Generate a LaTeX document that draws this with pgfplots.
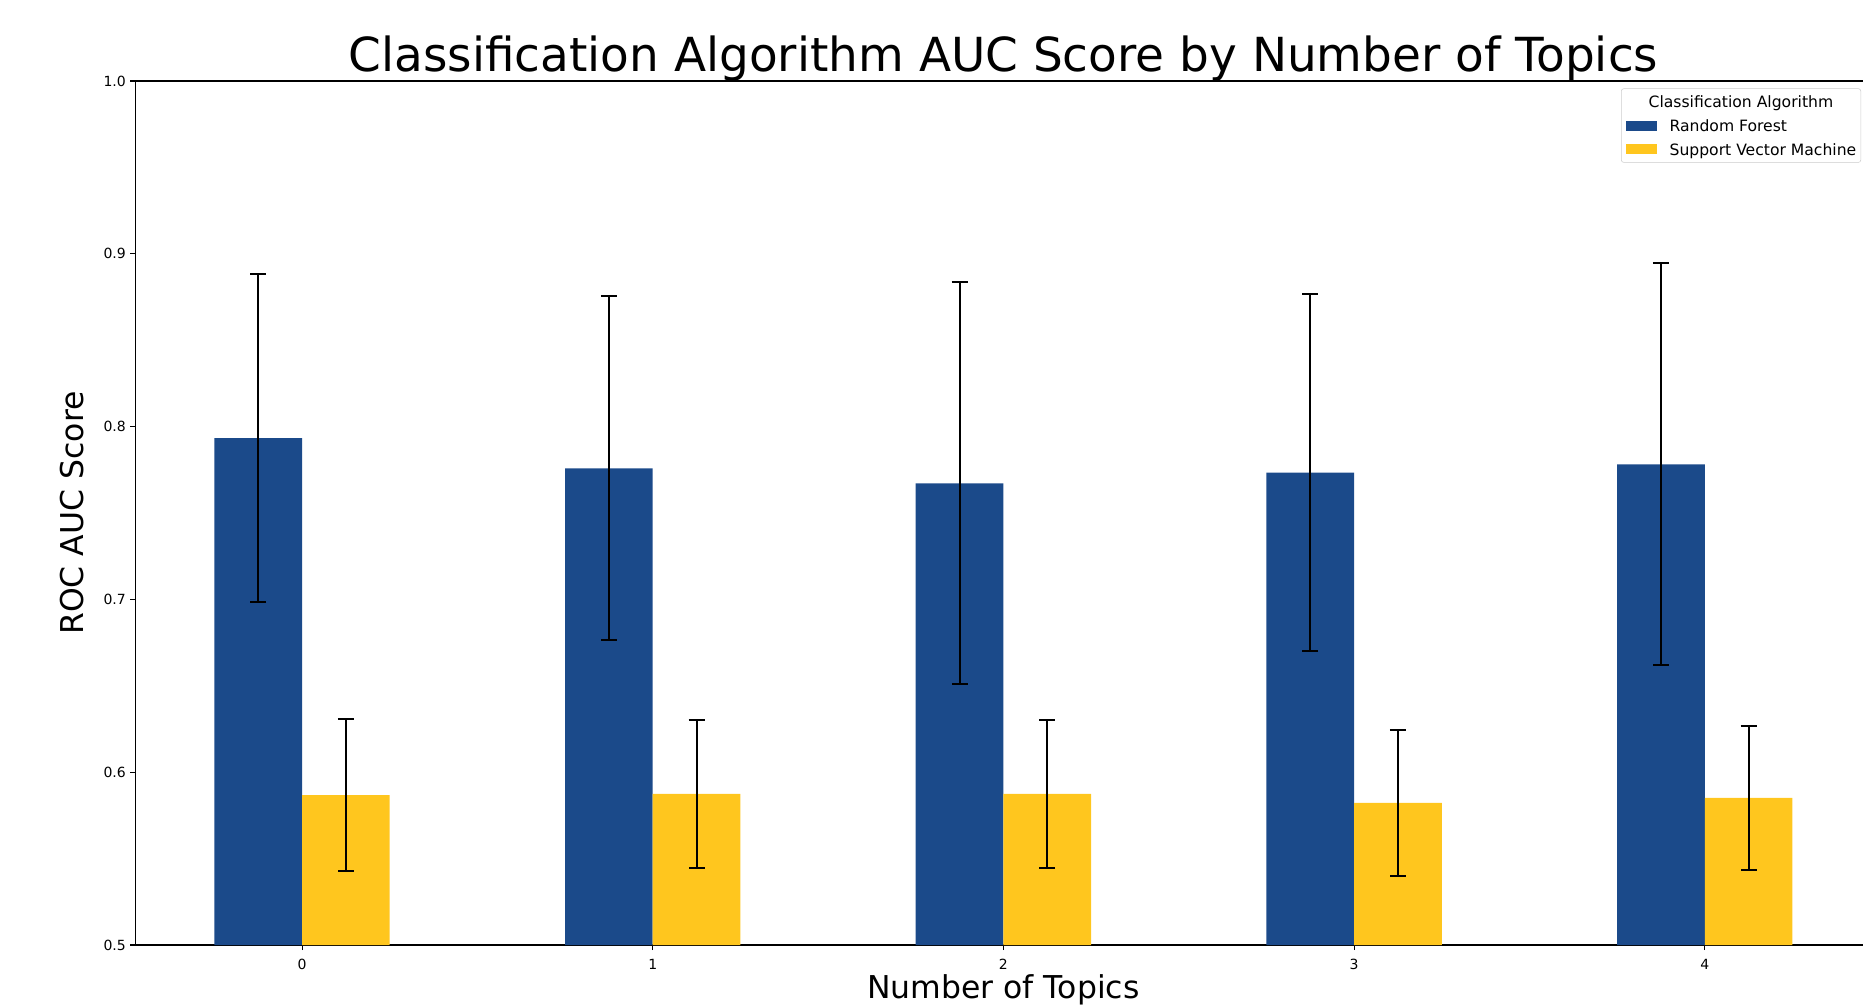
\documentclass[border=0pt]{standalone}
\usepackage{pgfplots}
\pgfplotsset{compat=1.18}
\usepackage{fontspec}
\setmainfont{DejaVu Sans}
\definecolor{rfblue}{HTML}{1B4A8A}
\definecolor{svmyellow}{HTML}{FFC61E}
\begin{document}
\begin{tikzpicture}
\path[use as bounding box] (-101.625pt,-44.25pt) rectangle (1295.625pt,708.75pt);
\clip (-101.625pt,-44.25pt) rectangle (1295.625pt,708.75pt);
\begin{axis}[
  at={(0pt,0pt)}, anchor=south west,
  scale only axis,
  width=1301.85pt, height=648pt,
  xmin=-0.475, xmax=4.475,
  ymin=0.5, ymax=1.0,
  ybar, bar width=0.25,
  xtick={0,1,2,3,4}, xticklabels={0,1,2,3,4},
  ytick={0.5,0.6,0.7,0.8,0.9,1.0},
  yticklabels={0.5,0.6,0.7,0.8,0.9,1.0},
  tick align=outside,
  major tick length=3.75pt,
  tick style={line width=0.8pt, black},
  axis line style={line width=0.8pt, black},
  xtick pos=bottom, ytick pos=left,
  tick label style={font=\fontsize{10.5pt}{12pt}\selectfont},
  xticklabel style={yshift=-3.2pt},
  title={Classification Algorithm AUC Score by Number of Topics},
  title style={font=\fontsize{35.2pt}{40pt}\selectfont, at={(axis description cs:0.5,1.0018)}, anchor=base},
  xlabel={Number of Topics},
  xlabel style={font=\fontsize{23.6pt}{26pt}\selectfont, at={(axis description cs:0.5,-0.0622)}, anchor=base},
  ylabel={ROC AUC Score},
  ylabel style={font=\fontsize{23.6pt}{26pt}\selectfont, at={(axis description cs:-0.0366,0.5)}, anchor=center},
  legend style={at={(axis description cs:0.8558,0.9915)}, anchor=north west,
    draw=black!20, rounded corners=2pt, fill=white, fill opacity=0.8, text opacity=1,
    font=\fontsize{11.7pt}{13pt}\selectfont, inner xsep=3.5pt, inner ysep=1pt,
    column sep=9.75pt, row sep=0pt,
    nodes={inner xsep=0pt, inner ysep=0pt, text height=13.2pt, text depth=4.6pt}},
  legend cell align=left,
  legend image code/.code={\fill[#1, fill opacity=1, sharp corners] (0pt,-3.75pt) rectangle (23pt,3.75pt);},
  error bars/error bar style={line width=1.5pt, black},
  error bars/error mark=|,
  error bars/error mark options={line width=1.5pt, black, mark size=6pt},
]
\addlegendimage{empty legend}
\addlegendentry{\hspace{-15.75pt}Classification Algorithm}
\addplot[fill=rfblue, draw=none, bar shift=-0.125,
  error bars/.cd, y dir=both, y explicit]
  coordinates {
  (0,0.7934) +- (0,0.0950)
  (1,0.7758) +- (0,0.0995)
  (2,0.7672) +- (0,0.1164)
  (3,0.7734) +- (0,0.1033)
  (4,0.7782) +- (0,0.1164)
  };
\addlegendentry{Random Forest}
\addplot[fill=svmyellow, draw=none, bar shift=0.125,
  error bars/.cd, y dir=both, y explicit]
  coordinates {
  (0,0.5868) +- (0,0.0441)
  (1,0.5875) +- (0,0.0427)
  (2,0.5875) +- (0,0.0427)
  (3,0.5823) +- (0,0.0424)
  (4,0.5851) +- (0,0.0417)
  };
\addlegendentry{Support Vector Machine}
\end{axis}
\end{tikzpicture}
\end{document}
